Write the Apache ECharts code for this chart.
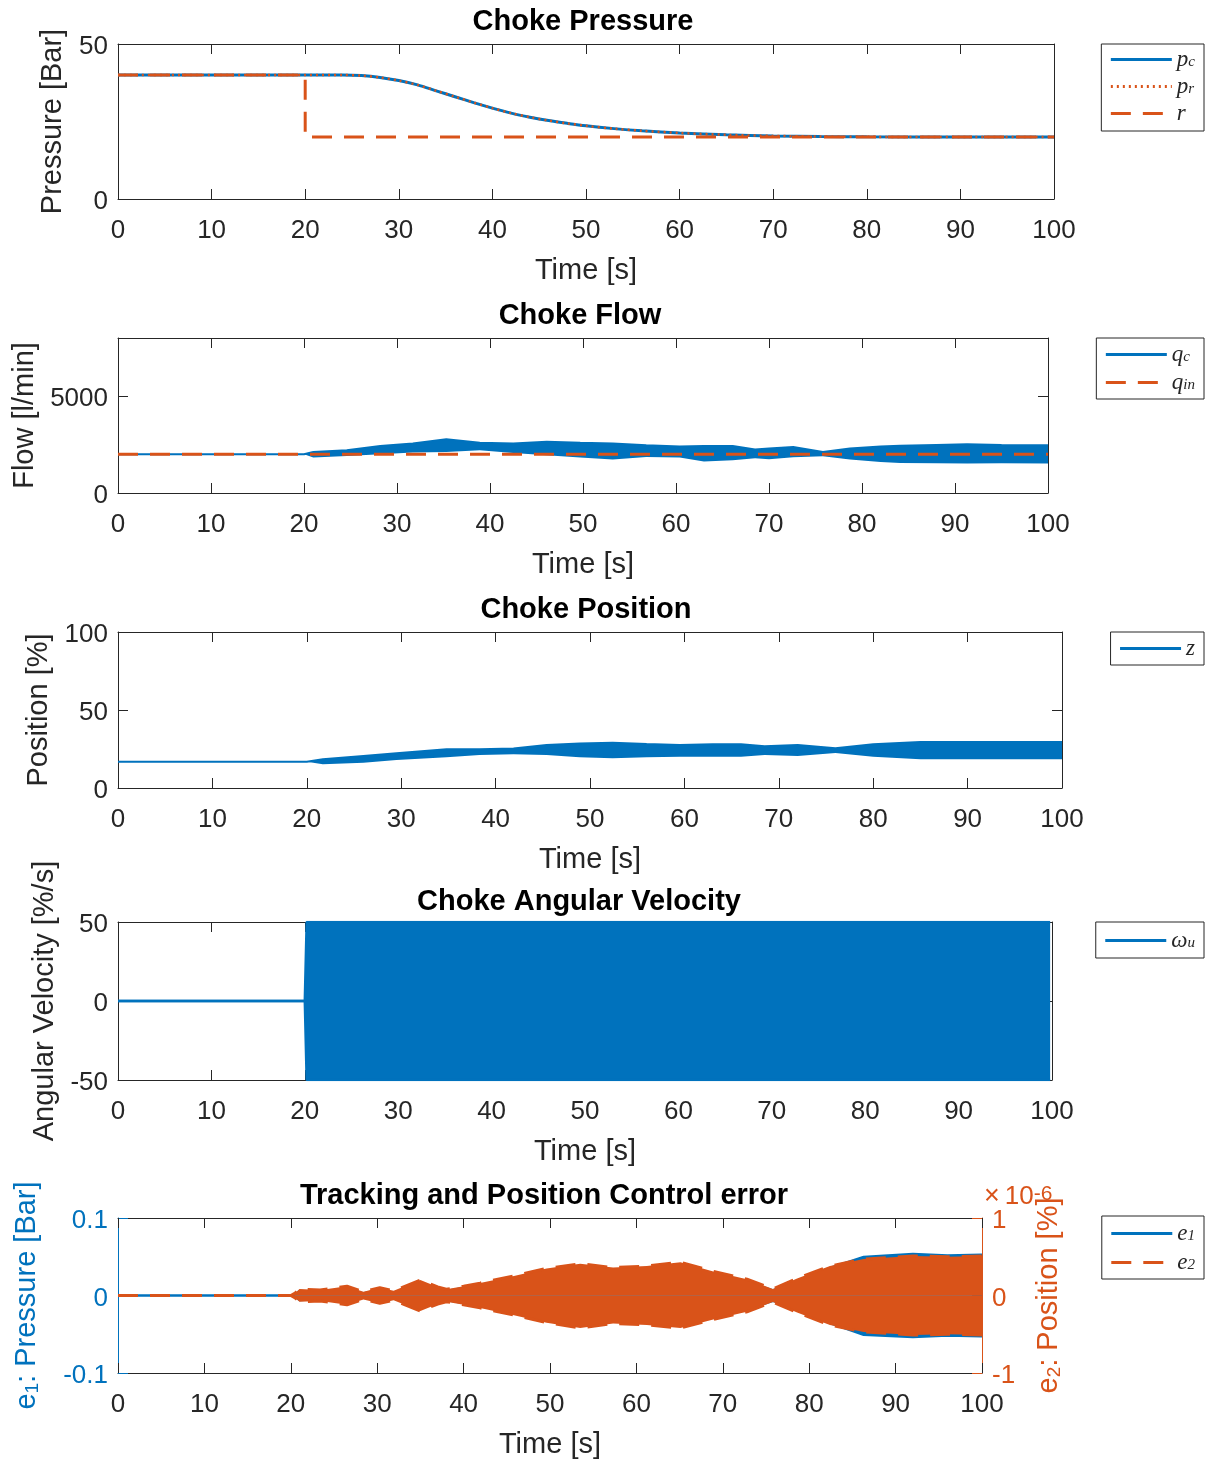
<!DOCTYPE html>
<html>
<head>
<meta charset="utf-8">
<script src="https://cdn.jsdelivr.net/npm/echarts@6/dist/echarts.min.js"></script>
<style>
html,body{margin:0;padding:0;background:#ffffff;}
#chart{width:1207px;height:1460px;}
</style>
</head>
<body>
<div id="chart"></div>
<script>
// ---------------- data ----------------
const timeTicks = [0, 10, 20, 30, 40, 50, 60, 70, 80, 90, 100];

// Choke Pressure [Bar]
const pressureTicks = [0, 50];
const pressureTime = [0, 20, 24, 26, 28, 30, 32, 34, 36, 38, 40, 42, 44, 46, 48, 50, 53, 56, 60, 65, 70, 75, 80, 90, 100];
const pcValues = [40, 40, 40, 39.8, 39.2, 38.2, 36.8, 34.9, 33.0, 31.1, 29.3, 27.7, 26.4, 25.3, 24.4, 23.6, 22.7, 22.0, 21.3, 20.7, 20.35, 20.15, 20.05, 20, 20];
const prValues = [40, 40, 40, 39.8, 39.2, 38.2, 36.8, 34.9, 33.0, 31.1, 29.3, 27.7, 26.4, 25.3, 24.4, 23.6, 22.7, 22.0, 21.3, 20.7, 20.35, 20.15, 20.05, 20, 20];
const refTime = [0, 20, 20, 100];
const refValues = [40, 40, 20, 20];

// Choke Flow [l/min]  (q_c oscillates: upper / lower envelope)
const flowTicks = [0, 5000];
const flowMax = 8000;
const flowTime = [0, 20, 21, 24.6, 28.2, 31.7, 35.3, 38.9, 42.5, 46.1, 49.7, 53.2, 56.8, 60.4, 63, 66.1, 68.5, 70, 72.6, 75.8, 78.7, 82, 84.1, 88, 91.3, 95, 100];
const qcUpper = [2000, 2000, 2120, 2210, 2420, 2560, 2770, 2590, 2560, 2640, 2590, 2560, 2470, 2400, 2420, 2420, 2250, 2300, 2370, 2120, 2300, 2400, 2440, 2480, 2510, 2480, 2470];
const qcLower = [2000, 2000, 1830, 1910, 2000, 2090, 2120, 2210, 2070, 1950, 1830, 1725, 1860, 1830, 1620, 1690, 1800, 1740, 1850, 1900, 1725, 1600, 1550, 1540, 1520, 1530, 1520];
const qinTime = [0, 100];
const qinValues = [2000, 2000];

// Choke Position [%]  (z oscillates: upper / lower envelope)
const positionTicks = [0, 50, 100];
const posTime = [0, 20, 21.7, 26, 29.5, 34.8, 38.3, 41.9, 45.4, 48.9, 52.4, 56, 59.5, 63, 66, 68.5, 72, 76, 80, 85, 90, 95, 100];
const zUpper = [16.8, 16.8, 18.4, 20.5, 22.2, 24.8, 24.8, 25.4, 27.6, 28.6, 29, 28.2, 27.6, 28, 28, 26.8, 27.5, 25.5, 28, 29.5, 29.5, 29.5, 29.5];
const zLower = [16.8, 16.8, 15.2, 16.2, 17.9, 19.7, 21.2, 21.6, 21.2, 19.7, 19, 19.7, 20.1, 20, 20, 21.2, 20.5, 22.5, 20, 18.5, 18.5, 18.5, 18.5];

// Choke Angular Velocity [%/s]  (saturated switching ±50 after t=20)
const omegaTicks = [-50, 0, 50];
const omegaTime = [0, 20, 20.2, 99.8];
const omegaUpper = [0, 0, 50, 50];
const omegaLower = [0, 0, -50, -50];

// Tracking and position control error
const e1Ticks = [-0.1, 0, 0.1];        // [Bar]
const e2Ticks = [-1, 0, 1];            // [%] x 1e-6
const errTime = [0, 20, 20.5, 21, 23.4, 26.5, 28.4, 30.3, 31.9, 35, 37, 38, 40, 41.9, 45.7, 49.6, 53.5, 57.3, 61.2, 65.1, 68.9, 72.8, 75.8, 78.6, 82.4, 86.3, 92, 96, 100];
const e1Upper = [0, 0, 0.002, 0.006, 0.005, 0.009, 0.003, 0.008, 0.004, 0.016, 0.009, 0.006, 0.010, 0.013, 0.021, 0.031, 0.037, 0.032, 0.034, 0.039, 0.027, 0.018, 0.007, 0.019, 0.036, 0.050, 0.054, 0.052, 0.053];
const e1Lower = [0, 0, -0.002, -0.006, -0.005, -0.009, -0.003, -0.008, -0.004, -0.016, -0.009, -0.006, -0.010, -0.013, -0.021, -0.031, -0.038, -0.032, -0.034, -0.038, -0.027, -0.018, -0.007, -0.019, -0.036, -0.051, -0.054, -0.052, -0.053];
const e2Upper = [0, 0, 0.03, 0.085, 0.07, 0.12, 0.05, 0.1, 0.06, 0.2, 0.11, 0.08, 0.12, 0.16, 0.25, 0.35, 0.41, 0.36, 0.38, 0.43, 0.31, 0.21, 0.085, 0.22, 0.38, 0.47, 0.51, 0.5, 0.51];
const e2Lower = [0, 0, -0.03, -0.08, -0.07, -0.12, -0.05, -0.1, -0.06, -0.2, -0.11, -0.08, -0.12, -0.16, -0.25, -0.35, -0.42, -0.36, -0.38, -0.42, -0.31, -0.21, -0.085, -0.22, -0.38, -0.47, -0.51, -0.5, -0.51];

const titleTexts = ['Choke Pressure', 'Choke Flow', 'Choke Position', 'Choke Angular Velocity', 'Tracking and Position Control error'];
const yNames = ['Pressure [Bar]', 'Flow [l/min]', 'Position [%]', 'Angular Velocity [%/s]'];

// ---------------- styling ----------------
const SANS = '"Liberation Sans", Arial, Helvetica, sans-serif';
const SERIF = '"Liberation Serif", "Times New Roman", serif';
const DARK = '#262626', BLUE = '#0072BD', ORANGE = '#D95319';

const pairs = (xs, ys) => xs.map((x, i) => [x, ys[i]]);
// value-first rows for stacked bands (stack on y; x read through encode)
const rowsVT = (xs, ys) => xs.map((x, i) => [ys[i], x]);
const diff = (u, l) => u.map((v, i) => v - l[i]);

const grids = [
  {left: 118, top: 44, width: 936, height: 155},
  {left: 118, top: 338, width: 930, height: 155},
  {left: 118, top: 632, width: 944, height: 156},
  {left: 118, top: 922, width: 934, height: 158},
  {left: 118, top: 1218, width: 864, height: 155}
].map(g => Object.assign({containLabel: false, outerBoundsMode: 'none'}, g));

function xBottom(g) {
  return {
    type: 'value', gridIndex: g, position: 'bottom',
    min: timeTicks[0], max: timeTicks[timeTicks.length - 1], interval: timeTicks[1] - timeTicks[0],
    axisLine: {show: true, onZero: false, lineStyle: {color: DARK, width: 1}},
    axisTick: {show: true, inside: true, length: 10, lineStyle: {color: DARK, width: 1}},
    axisLabel: {show: true, margin: 19, fontSize: 26, color: DARK, fontFamily: SANS},
    splitLine: {show: false},
    name: 'Time [s]', nameLocation: 'middle', nameGap: 57, nameMoveOverlap: false,
    nameTextStyle: {fontSize: 29, color: DARK, fontFamily: SANS}
  };
}
function xTop(g) {
  return {
    type: 'value', gridIndex: g, position: 'top',
    min: timeTicks[0], max: timeTicks[timeTicks.length - 1], interval: timeTicks[1] - timeTicks[0],
    axisLine: {show: true, onZero: false, lineStyle: {color: DARK, width: 1}},
    axisTick: {show: true, inside: true, length: 10, lineStyle: {color: DARK, width: 1}},
    axisLabel: {show: false}, splitLine: {show: false}
  };
}
function yAx(g, pos, ticks, max, opts) {
  const o = Object.assign({color: DARK, labels: true, name: '', nameGap: 50, showMax: true, nameRich: null}, opts || {});
  const ax = {
    type: 'value', gridIndex: g, position: pos,
    min: ticks[0], max: max, interval: ticks[1] - ticks[0],
    axisLine: {show: true, onZero: false, lineStyle: {color: o.color, width: 1}},
    axisTick: {show: true, inside: true, length: 10, lineStyle: {color: o.color, width: 1}},
    axisLabel: {show: o.labels, margin: 10, fontSize: 26, color: o.color, fontFamily: SANS,
      verticalAlign: 'top', lineHeight: 6,
      showMaxLabel: o.showMax, formatter: (v) => String(Math.round(v * 1000) / 1000)},
    splitLine: {show: false}
  };
  if (o.name) {
    ax.name = o.name; ax.nameLocation = 'middle'; ax.nameGap = o.nameGap; ax.nameMoveOverlap = false;
    ax.nameTextStyle = {fontSize: 29, color: o.color, fontFamily: SANS};
    if (o.nameRich) ax.nameTextStyle.rich = o.nameRich;
  }
  return ax;
}

const xAxes = [];
for (let g = 0; g < 5; g++) { xAxes.push(xBottom(g)); xAxes.push(xTop(g)); }

const subRich = (color) => ({
  a: {fontSize: 29, fontFamily: SANS, color: color, lineHeight: 30},
  s: {fontSize: 19, fontFamily: SANS, color: color, lineHeight: 12, verticalAlign: 'bottom'}
});

const yAxes = [
  yAx(0, 'left', pressureTicks, pressureTicks[pressureTicks.length - 1], {name: yNames[0], nameGap: 51}),
  yAx(0, 'right', pressureTicks, pressureTicks[pressureTicks.length - 1], {labels: false}),
  yAx(1, 'left', flowTicks, flowMax, {name: yNames[1], nameGap: 79, showMax: false}),
  yAx(1, 'right', flowTicks, flowMax, {labels: false}),
  yAx(2, 'left', positionTicks, positionTicks[positionTicks.length - 1], {name: yNames[2], nameGap: 65}),
  yAx(2, 'right', positionTicks, positionTicks[positionTicks.length - 1], {labels: false}),
  yAx(3, 'left', omegaTicks, omegaTicks[omegaTicks.length - 1], {name: yNames[3], nameGap: 59}),
  yAx(3, 'right', omegaTicks, omegaTicks[omegaTicks.length - 1], {labels: false}),
  yAx(4, 'left', e1Ticks, e1Ticks[e1Ticks.length - 1], {color: BLUE, name: '{a|e}{s|1}{a|: Pressure [Bar]}', nameGap: 76, nameRich: subRich(BLUE)}),
  yAx(4, 'right', e2Ticks, e2Ticks[e2Ticks.length - 1], {color: ORANGE, name: '{a|e}{s|2}{a|: Position [%]}', nameGap: 52, nameRich: subRich(ORANGE)})
];

const DASH = [20, 12];
function lineS(name, xi, yi, data, color, width, type, extra) {
  return Object.assign({
    name: name, type: 'line', xAxisIndex: xi, yAxisIndex: yi, data: data,
    symbol: 'none', showSymbol: false, animation: false, z: 2,
    itemStyle: {color: color},
    lineStyle: {color: color, width: width, type: type || 'solid'},
    emphasis: {disabled: true}
  }, extra || {});
}
const VT = {encode: {x: 1, y: 0}};

const series = [
  // Choke pressure
  lineS('p_c', 0, 0, pairs(pressureTime, pcValues), BLUE, 3, 'solid', {smooth: 0.3}),
  lineS('p_r', 0, 0, pairs(pressureTime, prValues), ORANGE, 2.5, [2, 4], {smooth: 0.3, z: 3}),
  lineS('r', 0, 0, pairs(refTime, refValues), ORANGE, 3, DASH, {z: 3}),
  // Choke flow (band = lower + (upper-lower), stacked on y)
  lineS('q_c base', 2, 2, rowsVT(flowTime, qcLower), BLUE, 0, 'solid', Object.assign({stack: 'qc', lineStyle: {opacity: 0, width: 0}, silent: true}, VT)),
  lineS('q_c', 2, 2, rowsVT(flowTime, diff(qcUpper, qcLower)), BLUE, 2, 'solid', Object.assign({stack: 'qc', areaStyle: {color: BLUE, opacity: 1}}, VT)),
  lineS('q_in', 2, 2, pairs(qinTime, qinValues), ORANGE, 3, DASH, {z: 3}),
  // Choke position
  lineS('z base', 4, 4, rowsVT(posTime, zLower), BLUE, 0, 'solid', Object.assign({stack: 'z', lineStyle: {opacity: 0, width: 0}, silent: true}, VT)),
  lineS('z', 4, 4, rowsVT(posTime, diff(zUpper, zLower)), BLUE, 2, 'solid', Object.assign({stack: 'z', areaStyle: {color: BLUE, opacity: 1}}, VT)),
  // Angular velocity
  lineS('ω_u', 6, 6, pairs(omegaTime, omegaUpper), BLUE, 2.5, 'solid', {areaStyle: {color: BLUE, opacity: 1}}),
  lineS('ω_u lower', 6, 6, pairs(omegaTime, omegaLower), BLUE, 2.5, 'solid', {areaStyle: {color: BLUE, opacity: 1}}),
  // Errors (e1 behind, e2 in front)
  lineS('e_1', 8, 8, pairs(errTime, e1Upper), BLUE, 2, 'solid', {areaStyle: {color: BLUE, opacity: 1}, z: 2}),
  lineS('e_1 lower', 8, 8, pairs(errTime, e1Lower), BLUE, 2, 'solid', {areaStyle: {color: BLUE, opacity: 1}, z: 2}),
  lineS('e_2', 8, 9, pairs(errTime, e2Upper), ORANGE, 3, DASH, {areaStyle: {color: ORANGE, opacity: 1}, z: 3}),
  lineS('e_2 lower', 8, 9, pairs(errTime, e2Lower), ORANGE, 3, DASH, {areaStyle: {color: ORANGE, opacity: 1}, z: 3})
];

const legendLabels = {
  'p_c': '{m|p}{s|c}', 'p_r': '{m|p}{s|r}', 'r': '{m|r}',
  'q_c': '{m|q}{s|c}', 'q_in': '{m|q}{s|in}', 'z': '{m|z}',
  'ω_u': '{m|ω}{s|u}', 'e_1': '{m|e}{n|1}', 'e_2': '{m|e}{n|2}'
};
function legendBox(names, top, padding, gap) {
  return {
    show: true, orient: 'vertical', right: 3, top: top,
    data: names, selectedMode: false,
    itemWidth: 61, itemHeight: 14, itemGap: gap,
    padding: padding, borderColor: DARK, borderWidth: 1, backgroundColor: '#ffffff',
    itemStyle: {opacity: 0},
    lineStyle: {width: 3},
    formatter: (name) => legendLabels[name] || name,
    textStyle: {
      color: DARK, fontFamily: SERIF, fontStyle: 'italic', fontSize: 23,
      rich: {
        m: {fontFamily: SERIF, fontStyle: 'italic', fontSize: 23, color: DARK, lineHeight: 20},
        s: {fontFamily: SERIF, fontStyle: 'italic', fontSize: 15, color: DARK, lineHeight: 10, verticalAlign: 'bottom'},
        n: {fontFamily: SERIF, fontSize: 15, color: DARK, lineHeight: 10, verticalAlign: 'bottom'}
      }
    }
  };
}
const legends = [
  legendBox(['p_c', 'p_r', 'r'], 44, [4, 9, 6, 8], 4),
  legendBox(['q_c', 'q_in'], 338, [5, 9, 5, 8], 5),
  legendBox(['z'], 632, [5, 9, 5, 8], 4),
  legendBox(['ω_u'], 922, [7, 9, 6, 8], 4),
  legendBox(['e_1', 'e_2'], 1216, [6, 9, 5, 8], 6)
];

const titlePos = [[583, 22], [580, 316], [586, 610], [579, 902], [544, 1196]];
const graphics = titleTexts.map((t, i) => ({
  type: 'text', x: titlePos[i][0], y: titlePos[i][1], silent: true,
  style: {text: t, fill: '#000000', fontSize: 29, fontWeight: 'bold', fontFamily: SANS, align: 'center', verticalAlign: 'middle'}
}));
graphics.push({
  type: 'text', x: 984, y: 1197, silent: true,
  style: {
    text: '{x|×}{b|10}{p|-6}', verticalAlign: 'middle', align: 'left',
    rich: {
      x: {fontSize: 27, fontFamily: SANS, fill: ORANGE, color: ORANGE, lineHeight: 26, padding: [0, 5, 0, 0]},
      b: {fontSize: 26, fontFamily: SANS, fill: ORANGE, color: ORANGE, lineHeight: 26},
      p: {fontSize: 21, fontFamily: SANS, fill: ORANGE, color: ORANGE, lineHeight: 14, verticalAlign: 'top'}
    }
  }
});

const chart = echarts.init(document.getElementById('chart'), null, {renderer: 'canvas'});
chart.setOption({
  backgroundColor: '#ffffff',
  animation: false,
  grid: grids,
  xAxis: xAxes,
  yAxis: yAxes,
  legend: legends,
  series: series,
  graphic: graphics
});
</script>
</body>
</html>
